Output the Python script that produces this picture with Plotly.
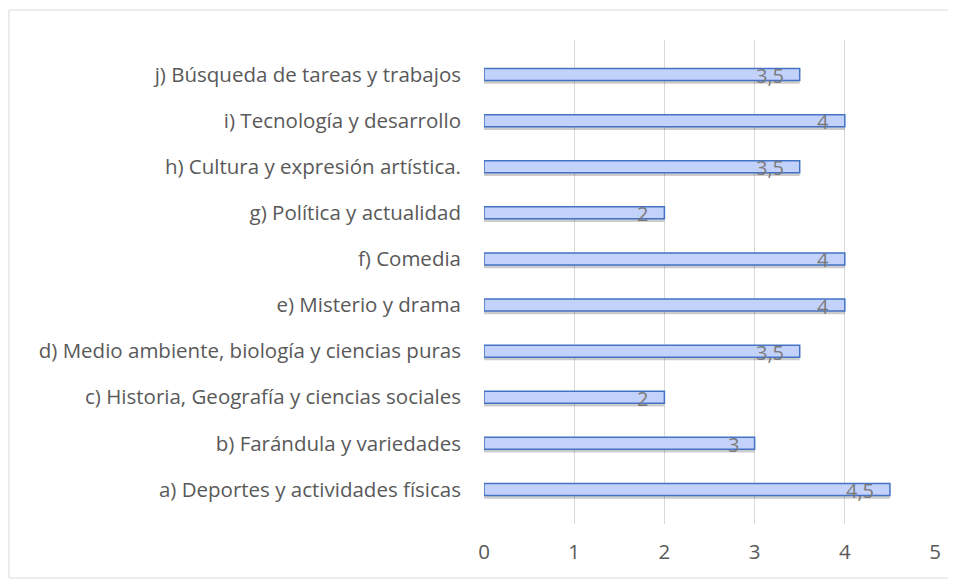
import plotly.graph_objects as go

categorias = [
    'a) Deportes y actividades físicas',
    'b) Farándula y variedades',
    'c) Historia, Geografía y ciencias sociales',
    'd) Medio ambiente, biología y ciencias puras',
    'e) Misterio y drama',
    'f) Comedia',
    'g) Política y actualidad',
    'h) Cultura y expresión artística.',
    'i) Tecnología y desarrollo',
    'j) Búsqueda de tareas y trabajos',
]
valores = [4.5, 3, 2, 3.5, 4, 4, 2, 3.5, 4, 3.5]
ticks_x = [0, 1, 2, 3, 4, 5]

etiquetas = [f"{v:g}".replace('.', ',') for v in valores]
fuente = "Open Sans, sans-serif"

fig = go.Figure()

# sombra suave bajo cada barra
fig.add_trace(go.Bar(
    x=valores, y=categorias, orientation='h',
    width=0.26, offset=-0.2,
    marker=dict(color='rgba(0,0,0,0.2)', line=dict(width=0)),
    hoverinfo='skip', showlegend=False
))

fig.add_trace(go.Bar(
    x=valores, y=categorias, orientation='h',
    width=0.26,
    marker=dict(color='#c3d2fb', line=dict(color='#4472c4', width=1.5)),
    showlegend=False
))

for v, c, t in zip(valores, categorias, etiquetas):
    fig.add_annotation(
        x=v, y=c, text=t, showarrow=False,
        xanchor='right', xshift=-14, yshift=-1,
        font=dict(family=fuente, size=20, color='#7a7a7a')
    )

# marco exterior del gráfico (el body de la página añade 8px)
fig.add_shape(
    type='rect', xref='paper', yref='paper',
    x0=(1 - 476) / 451, x1=(947 - 476) / 451,
    y0=(516 - 570) / 484, y1=(516 - 2) / 484,
    line=dict(color='#d9d9d9', width=1), layer='below'
)

fig.update_layout(
    barmode='overlay',
    width=948, height=571,
    plot_bgcolor='white',
    paper_bgcolor='white',
    margin=dict(l=476, r=21, t=32, b=55),
    xaxis=dict(
        range=[0, 5], tickvals=ticks_x,
        showgrid=True, gridcolor='#d9d9d9', gridwidth=1,
        zeroline=False, showline=False,
        tickfont=dict(family=fuente, size=20.5, color='#595959'),
        ticklabelstandoff=13
    ),
    yaxis=dict(
        range=[-0.75, 9.75],
        showgrid=False, zeroline=False, showline=False,
        tickfont=dict(family=fuente, size=20.5, color='#595959'),
        ticklabelstandoff=22
    ),
)

fig.write_html("out.html")
